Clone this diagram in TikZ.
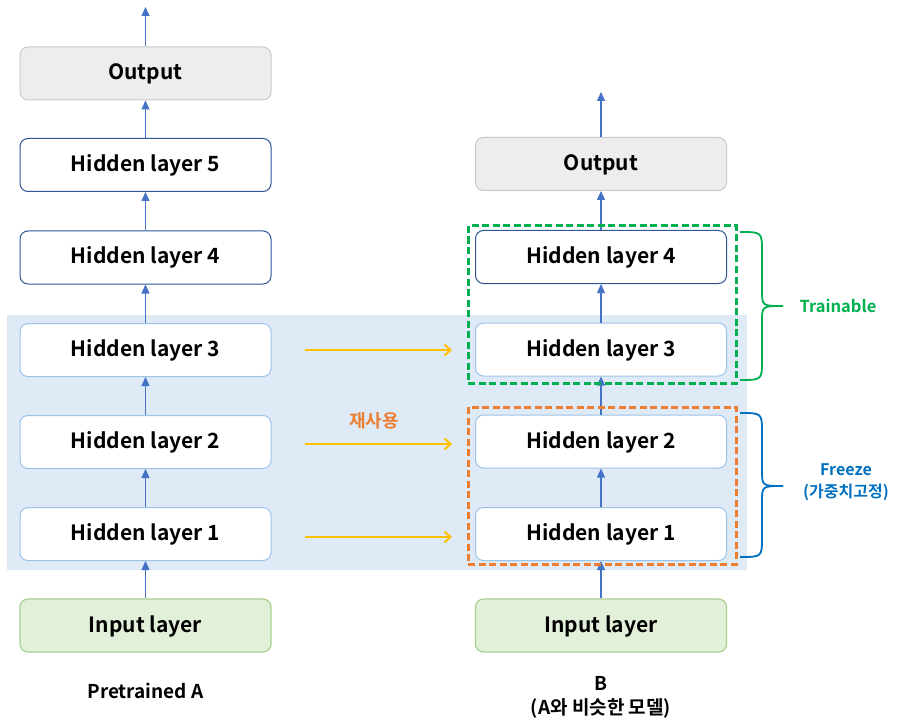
\documentclass[tikz,border=0pt]{standalone}
\usepackage{fontspec}
\setmainfont{Noto Sans CJK KR}[BoldFont={Noto Sans CJK KR Bold}]
\usetikzlibrary{arrows.meta}
\definecolor{bgblue}{HTML}{DEEBF7}
\definecolor{darkb}{HTML}{2F5597}
\definecolor{lightb}{HTML}{9DC3E6}
\definecolor{outfill}{HTML}{EDEDED}
\definecolor{outdraw}{HTML}{C9C9C9}
\definecolor{infill}{HTML}{E2F0D9}
\definecolor{indraw}{HTML}{A9D18E}
\definecolor{arrblue}{HTML}{4472C4}
\definecolor{reuse}{HTML}{FFC000}
\definecolor{grn}{HTML}{00B050}
\definecolor{org}{HTML}{ED7D31}
\definecolor{frz}{HTML}{0070C0}
\tikzset{
  layer/.style={rounded corners=8pt, minimum width=251pt, minimum height=53pt, inner sep=0pt, line width=1pt, text height=16pt, text depth=3pt, font=\bfseries\fontsize{21}{24}\selectfont},
  hidd/.style={layer, draw=darkb, fill=white},
  hidl/.style={layer, draw=lightb, fill=white},
  outbox/.style={layer, draw=outdraw, fill=outfill},
  inbox/.style={layer, draw=indraw, fill=infill, line width=1.2pt},
  arr/.style={draw=arrblue, line width=1.2pt, -{Triangle[length=9pt,width=8pt]}},
  reusearr/.style={draw=reuse, line width=2pt, -{Straight Barb[length=6pt,width=11pt]}},
  dashbox/.style={line width=3pt, dash pattern=on 7pt off 3.5pt},
  brc/.style={line width=1.8pt},
  lbl/.style={font=\bfseries\fontsize{19}{24}\selectfont, align=center}
}
\begin{document}
\begin{tikzpicture}[x=1pt,y=-1pt]
\useasboundingbox (0,0) rectangle (897,722);
% background
\fill[bgblue] (7,315) rectangle (747,570);
% left column
\node[outbox] (aout) at (145.5,73.5) {Output};
\node[hidd] (a5) at (145.5,165) {Hidden layer 5};
\node[hidd] (a4) at (145.5,257.5) {Hidden layer 4};
\node[hidl] (a3) at (145.5,350) {Hidden layer 3};
\node[hidl] (a2) at (145.5,442) {Hidden layer 2};
\node[hidl] (a1) at (145.5,534) {Hidden layer 1};
\node[inbox] (ain) at (145.5,625.5) {Input layer};
\coordinate (atop) at (145.5,7);
% right column
\node[outbox] (bout) at (601,164) {Output};
\node[hidd] (b4) at (601,257) {Hidden layer 4};
\node[hidl] (b3) at (601,349.5) {Hidden layer 3};
\node[hidl] (b2) at (601,441.5) {Hidden layer 2};
\node[hidl] (b1) at (601,534) {Hidden layer 1};
\node[inbox] (bin) at (601,625.5) {Input layer};
\coordinate (btop) at (601,92);
% vertical arrows
\draw[arr] (ain.north) -- (a1.south);
\draw[arr] (a1.north) -- (a2.south);
\draw[arr] (a2.north) -- (a3.south);
\draw[arr] (a3.north) -- (a4.south);
\draw[arr] (a4.north) -- (a5.south);
\draw[arr] (a5.north) -- (aout.south);
\draw[arr] (aout.north) -- (atop);
\draw[arr] (bin.north) -- (b1.south);
\draw[arr] (b1.north) -- (b2.south);
\draw[arr] (b2.north) -- (b3.south);
\draw[arr] (b3.north) -- (b4.south);
\draw[arr] (b4.north) -- (bout.south);
\draw[arr] (bout.north) -- (btop);
% dashed groups
\node[dashbox, draw=grn, minimum width=268pt, minimum height=157pt, inner sep=0pt] (train) at (602,304.5) {};
\node[dashbox, draw=org, minimum width=268pt, minimum height=157pt, inner sep=0pt] (freeze) at (602,485.5) {};
% reuse arrows
\coordinate (r3s) at (305,350); \coordinate (r3e) at (452,350);
\coordinate (r2s) at (305,444); \coordinate (r2e) at (452,444);
\coordinate (r1s) at (305,537); \coordinate (r1e) at (452,537);
\draw[reusearr] (r3s) -- (r3e);
\draw[reusearr] (r2s) -- (r2e);
\draw[reusearr] (r1s) -- (r1e);
\node[text=org, font=\bfseries\fontsize{18}{20}\selectfont] (reuselbl) at (374,421) {재사용};
% braces
\draw[brc, grn] (740,232) .. controls (762,232) .. (762,252) -- (762,290) .. controls (762,306) .. (783,306);
\draw[brc, grn] (740,380) .. controls (762,380) .. (762,360) -- (762,322) .. controls (762,306) .. (783,306);
\node[text=grn, font=\bfseries\fontsize{16.5}{19}\selectfont] (trainlbl) at (838,306) {Trainable};
\draw[brc, frz] (740,413) .. controls (762,413) .. (762,433) -- (762,470) .. controls (762,486) .. (783,486);
\draw[brc, frz] (740,557) .. controls (762,557) .. (762,537) -- (762,502) .. controls (762,486) .. (783,486);
\node[text=frz, font=\bfseries\fontsize{16}{22}\selectfont, align=center] (frzlbl) at (846,482) {Freeze\\(가중치고정)};
% bottom labels
\node[lbl] (alabel) at (145.5,691) {Pretrained A};
\node[lbl] (blabel) at (601,697) {B\\(A와 비슷한 모델)};
\end{tikzpicture}
\end{document}
